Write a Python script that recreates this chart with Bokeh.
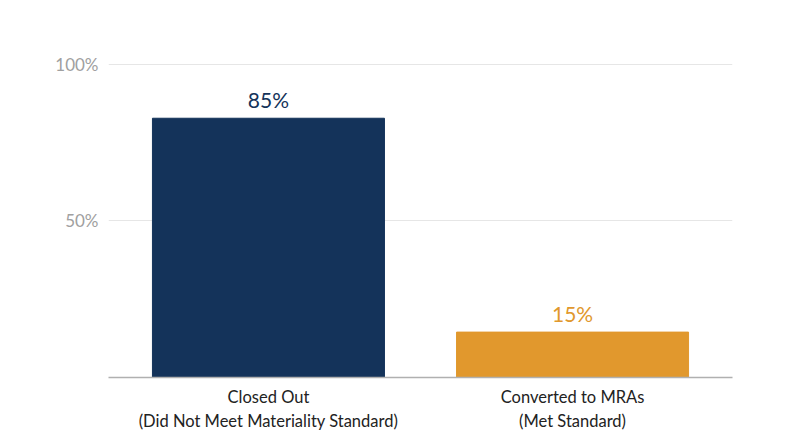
from bokeh.plotting import figure
from bokeh.models import ColumnDataSource, FactorRange, Range1d, FixedTicker
from bokeh.embed import file_html
from bokeh.resources import INLINE
from bokeh.core.properties import value

categories = ["Closed Out\n(Did Not Meet Materiality Standard)", "Converted to MRAs\n(Met Standard)"]
values = [82.8, 14.5]
labels = ["85%", "15%"]
colors = ["#14335A", "#E1982D"]
y_ticks = [50, 100]

src = ColumnDataSource(dict(cat=categories, val=values, lab=labels, col=colors))

p = figure(x_range=FactorRange(*categories, range_padding=0.026, range_padding_units="absolute"),
           y_range=Range1d(0, 100.6),
           width=792, height=439, output_backend="svg", toolbar_location=None,
           min_border_left=108, min_border_right=60, min_border_top=62, min_border_bottom=62)
p.outline_line_color = None
p.background_fill_color = "white"
p.border_fill_color = "white"

p.vbar(x="cat", top="val", width=0.763, color="col", source=src)
p.text(x="cat", y="val", text="lab", text_color="col", source=src,
       text_align="center", text_baseline="bottom", y_offset=-6,
       text_font=value("Lato"), text_font_size="21px")

p.xgrid.grid_line_color = None
p.ygrid.grid_line_color = "#E6E6E6"
p.ygrid.grid_line_width = 1
p.yaxis.ticker = FixedTicker(ticks=y_ticks)
p.yaxis.major_label_overrides = {50: "50%", 100: "100%"}
p.yaxis.axis_line_color = None
p.yaxis.major_tick_line_color = None
p.yaxis.minor_tick_line_color = None
p.yaxis.major_label_text_color = "#A0A0A0"
p.yaxis.major_label_text_font = "Lato"
p.yaxis.major_label_text_font_size = "17px"
p.yaxis.major_label_standoff = 4

p.xaxis.axis_line_color = "#B0B0B0"
p.xaxis.axis_line_width = 1.5
p.xaxis.major_tick_line_color = None
p.xaxis.minor_tick_line_color = None
p.xaxis.major_label_text_color = "#222222"
p.xaxis.major_label_text_font = "Lato"
p.xaxis.major_label_text_font_size = "16.5px"
p.xaxis.major_label_standoff = 3

open("out.html", "w").write(file_html(p, INLINE))
